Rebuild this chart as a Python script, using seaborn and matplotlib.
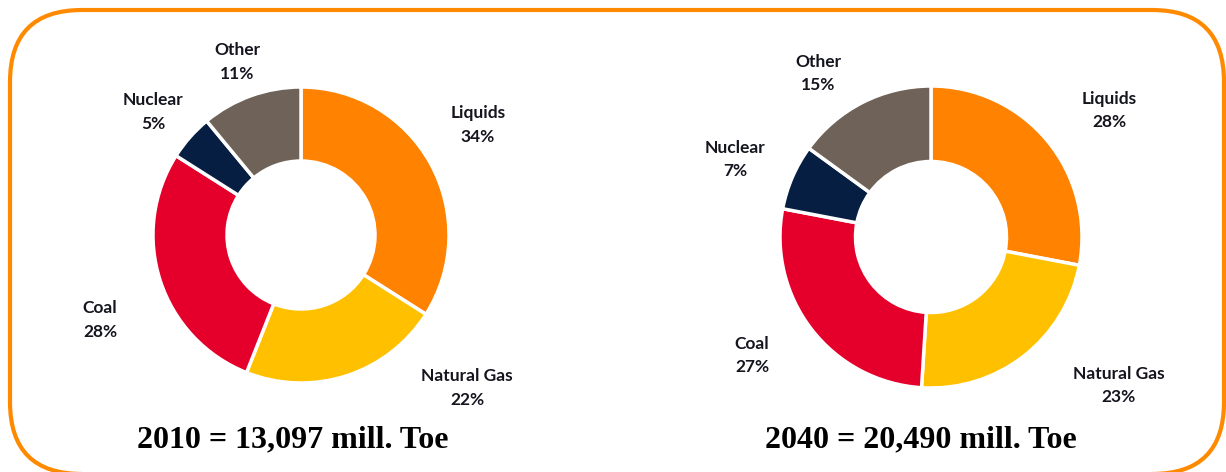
import matplotlib
matplotlib.use("Agg")
import matplotlib.pyplot as plt
from matplotlib.patches import FancyBboxPatch
from matplotlib.transforms import IdentityTransform
import seaborn as sns

sns.set_theme(style="white")
plt.rcParams["font.family"] = ["Lato", "DejaVu Sans"]

# Energy mix shares (%)
categories = ["Liquids", "Natural Gas", "Coal", "Nuclear", "Other"]
share_2010 = [34, 22, 28, 5, 11]
share_2040 = [28, 23, 27, 7, 15]
titles = ["2010 = 13,097 mill. Toe", "2040 = 20,490 mill. Toe"]

colors = ["#FF8200", "#FFC000", "#E4002B", "#051E42", "#6E6259"]
text_color = "#15151F"

W, H = 1226, 472
fig = plt.figure(figsize=(W / 100, H / 100), dpi=100)
fig.patch.set_facecolor("white")

# Rounded orange frame (display pixels)
frame = FancyBboxPatch((10, -2), 1214, 464,
                       boxstyle="round,pad=0,rounding_size=72",
                       transform=IdentityTransform(),
                       facecolor="none", edgecolor="#FF8A00", linewidth=3.0)
fig.patches.append(frame)

# Donut layout: centre (px from top-left), outer radius (px), label spots in radius units
layouts = [
    dict(center=(301, 235), radius=148,
         label_xy=[(1.196, 0.743), (1.122, -1.034), (-1.358, -0.574),
                   (-1.0, 0.831), (-0.432, 1.169)],
         title_xy=(293, 440)),
    dict(center=(931, 237), radius=151,
         label_xy=[(1.179, 0.838), (1.245, -0.983), (-1.185, -0.785),
                   (-1.298, 0.513), (-0.748, 1.083)],
         title_xy=(921, 440)),
]

for values, title, lay in zip([share_2010, share_2040], titles, layouts):
    cx, cy = lay["center"]
    r = lay["radius"]
    ax = fig.add_axes([0, 0, 1, 1])
    ax.patch.set_alpha(0)
    ax.pie(values, colors=colors, startangle=90, counterclock=False,
           radius=1.0,
           wedgeprops=dict(width=0.5, edgecolor="white", linewidth=2.5))
    ax.set_aspect("auto")
    ax.set_xlim(-cx / r, (W - cx) / r)
    ax.set_ylim(-(H - cy) / r, cy / r)
    ax.axis("off")
    for name, val, (lx, ly) in zip(categories, values, lay["label_xy"]):
        ax.text(lx, ly, f"{name}\n{val}%", ha="center", va="center",
                fontsize=12.5, fontweight="bold", color=text_color,
                linespacing=1.6)
    tx, ty = lay["title_xy"]
    ax.text((tx - cx) / r, (cy - ty) / r, title, ha="center", va="center",
            fontsize=23, fontweight="bold", color="black",
            family=["Liberation Serif", "DejaVu Serif"])

fig.savefig("out.png", dpi=100, facecolor="white")
